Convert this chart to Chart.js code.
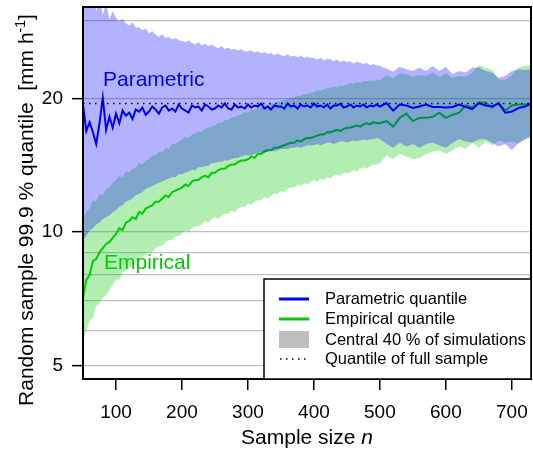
<!DOCTYPE html>
<html>
<head>
<meta charset="utf-8">
<script src="https://cdn.jsdelivr.net/npm/chart.js@4.4.1/dist/chart.umd.min.js"></script>
<style>
  html, body { margin: 0; padding: 0; background: #fff; }
  canvas { display: block; }
</style>
</head>
<body>
<canvas id="chart" width="533" height="449"></canvas>
<script>
// sample sizes: every 5 up to 500, then every 10
var sampleSizes = [
  50, 55, 60, 65, 70, 75, 80, 85, 90, 95,
  100, 105, 110, 115, 120, 125, 130, 135, 140, 145,
  150, 155, 160, 165, 170, 175, 180, 185, 190, 195,
  200, 205, 210, 215, 220, 225, 230, 235, 240, 245,
  250, 255, 260, 265, 270, 275, 280, 285, 290, 295,
  300, 305, 310, 315, 320, 325, 330, 335, 340, 345,
  350, 355, 360, 365, 370, 375, 380, 385, 390, 395,
  400, 405, 410, 415, 420, 425, 430, 435, 440, 445,
  450, 455, 460, 465, 470, 475, 480, 485, 490, 495,
  500,
  510, 520, 530, 540, 550, 560, 570, 580, 590, 600, 610, 620,
  630, 640, 650, 660, 670, 680, 690, 700, 710, 720, 730
];

var paramQuantile = [
  19.4, 16.9, 17.7, 16.8, 15.8, 17.6, 20.1, 17.0, 18.2, 17.2,
  18.5, 17.6, 18.8, 18.3, 18.6, 18.0, 18.9, 18.7, 19.1, 18.4,
  18.7, 19.2, 18.9, 18.5, 19.1, 19.3, 18.8, 19.0, 18.7, 19.4,
  19.0, 18.8, 18.6, 19.3, 19.1, 19.2, 18.8, 19.4, 19.2, 18.9,
  19.0, 19.3, 19.1, 19.5, 19.0, 18.9, 19.4, 19.1, 19.2, 19.0,
  19.4, 19.1, 19.3, 19.2, 19.5, 19.0, 19.2, 18.9, 19.3, 19.2,
  19.2, 19.0, 19.5, 19.2, 19.3, 19.0, 19.4, 19.2, 19.3, 19.1,
  19.5, 19.2, 19.3, 19.1, 19.4, 19.0, 19.3, 19.3, 19.5, 19.1,
  19.2, 19.4, 19.1, 19.3, 19.2, 19.4, 19.1, 19.3, 19.2, 19.4,
  19.2,
  19.55, 18.8, 19.4, 19.3, 19.05, 19.2, 19.4, 19.15, 19.15, 19.1, 19.15, 19.4,
  19.15, 18.95, 19.55, 19.3, 19.2, 19.5, 18.6, 18.7, 19.05, 19.2, 19.5
];

var empQuantile = [
  7.1, 7.8, 8.0, 8.6, 8.7, 9.0, 9.2, 9.4, 9.5, 9.7,
  9.9, 10.2, 10.1, 10.5, 10.6, 10.8, 10.7, 11.1, 11.0, 11.3,
  11.4, 11.5, 11.7, 11.7, 11.9, 12.1, 12.0, 12.3, 12.4, 12.5,
  12.6, 12.8, 12.7, 13.0, 13.1, 13.1, 13.3, 13.4, 13.3, 13.6,
  13.6, 13.8, 13.9, 13.9, 14.1, 14.2, 14.2, 14.4, 14.5, 14.5,
  14.6, 14.8, 14.7, 15.0, 15.0, 15.2, 15.3, 15.3, 15.5, 15.5,
  15.6, 15.7, 15.8, 15.9, 15.9, 16.1, 16.0, 16.2, 16.3, 16.3,
  16.4, 16.5, 16.6, 16.6, 16.8, 16.8, 16.9, 17.0, 16.9, 17.1,
  17.2, 17.2, 17.3, 17.4, 17.3, 17.5, 17.6, 17.5, 17.7, 17.6,
  17.6,
  17.8, 17.3, 18.1, 18.5, 17.8, 18.1, 18.1, 18.2, 18.6, 18.1, 18.4, 18.6,
  19.3, 19.1, 19.6, 19.6, 19.1, 19.6, 18.8, 19.3, 19.4, 19.4, 19.5
];

// central 40 % of simulations, parametric
var paramLow = [
  9.6, 9.8, 10.1, 10.2, 10.4, 10.5, 10.7, 10.8, 10.9, 11.1,
  11.2, 11.4, 11.5, 11.7, 11.8, 11.9, 12.1, 12.2, 12.3, 12.5,
  12.6, 12.7, 12.8, 12.9, 13.0, 13.1, 13.2, 13.3, 13.3, 13.5,
  13.5, 13.6, 13.7, 13.8, 13.8, 14.0, 14.0, 14.1, 14.1, 14.3,
  14.3, 14.4, 14.4, 14.5, 14.5, 14.6, 14.7, 14.7, 14.8, 14.9,
  14.9, 14.9, 15.0, 15.1, 15.1, 15.1, 15.2, 15.3, 15.2, 15.3,
  15.4, 15.4, 15.4, 15.5, 15.5, 15.6, 15.5, 15.6, 15.7, 15.7,
  15.7, 15.8, 15.7, 15.8, 15.9, 15.9, 15.8, 15.9, 16.0, 16.0,
  15.9, 16.0, 16.1, 16.0, 16.1, 16.2, 16.1, 16.2, 16.2, 16.3,
  16.2,
  15.8, 15.5, 15.9, 15.6, 15.8, 15.5, 15.8, 15.9, 15.7, 15.5, 15.9, 16.2,
  16.0, 15.9, 16.2, 16.2, 15.9, 15.6, 15.8, 15.3, 15.9, 16.2, 16.4
];
var paramHigh = [
  36, 38, 33, 35, 31.5, 34, 30.8, 33, 30.2, 31.5,
  30.4, 29.9, 30.3, 29.6, 29.2, 29.7, 28.9, 29.0, 28.5, 28.8,
  28.1, 28.4, 27.9, 27.6, 27.9, 27.4, 27.6, 27.2, 27.4, 27.1,
  27.0, 26.8, 27.1, 26.7, 26.5, 26.8, 26.4, 26.6, 26.3, 26.5,
  26.2, 26.0, 26.3, 25.9, 26.1, 25.8, 25.9, 25.7, 25.9, 25.6,
  25.6, 25.7, 25.4, 25.6, 25.3, 25.5, 25.2, 25.4, 25.1, 25.3,
  25.1, 24.9, 25.2, 24.9, 25.0, 24.8, 25.0, 24.7, 24.9, 24.7,
  24.7, 24.5, 24.7, 24.4, 24.6, 24.5, 24.3, 24.5, 24.2, 24.4,
  24.2, 24.3, 24.0, 24.2, 24.1, 23.9, 24.1, 23.8, 23.9, 23.8,
  23.7,
  23.4, 23.0, 23.6, 23.3, 23.1, 23.5, 23.1, 23.7, 23.1, 23.6, 22.7, 23.1,
  22.9, 23.5, 23.5, 23.1, 22.9, 22.3, 22.5, 23.1, 23.3, 23.2, 23.3
];

// central 40 % of simulations, empirical
var empLow = [
  5.7, 6.0, 6.3, 6.4, 6.8, 6.9, 7.1, 7.2, 7.4, 7.6,
  7.8, 7.8, 8.1, 8.2, 8.3, 8.4, 8.6, 8.6, 8.8, 8.9,
  9.0, 9.0, 9.2, 9.3, 9.3, 9.5, 9.6, 9.6, 9.8, 9.8,
  9.9, 10.1, 10.0, 10.2, 10.3, 10.3, 10.4, 10.6, 10.5, 10.7,
  10.8, 10.7, 10.9, 11.0, 11.0, 11.2, 11.1, 11.3, 11.4, 11.4,
  11.6, 11.5, 11.7, 11.8, 11.8, 12.0, 11.9, 12.1, 12.2, 12.2,
  12.4, 12.3, 12.5, 12.6, 12.6, 12.8, 12.7, 12.9, 12.8, 13.0,
  13.1, 13.0, 13.2, 13.1, 13.3, 13.2, 13.4, 13.5, 13.4, 13.6,
  13.6, 13.6, 13.8, 13.7, 13.9, 14.0, 13.9, 14.1, 14.2, 14.2,
  14.3,
  14.9, 14.6, 15.0, 14.8, 14.6, 14.7, 15.0, 15.2, 15.3, 15.0, 15.3, 15.6,
  15.4, 15.9, 15.5, 16.0, 15.7, 16.1, 15.9, 16.0, 15.8, 16.2, 16.5
];
var empHigh = [
  10.6, 11.1, 11.3, 11.8, 11.7, 12.2, 12.1, 12.5, 12.6, 12.9,
  13.1, 13.4, 13.3, 13.7, 13.6, 13.9, 14.0, 14.3, 14.2, 14.5,
  14.6, 14.9, 14.9, 15.2, 15.1, 15.5, 15.4, 15.8, 15.8, 16.0,
  16.2, 16.4, 16.3, 16.6, 16.7, 16.9, 16.8, 17.1, 17.2, 17.3,
  17.4, 17.7, 17.6, 17.9, 17.9, 18.1, 18.2, 18.3, 18.4, 18.6,
  18.6, 18.9, 18.8, 19.1, 19.1, 19.3, 19.4, 19.5, 19.5, 19.7,
  19.7, 19.9, 19.9, 20.1, 20.1, 20.3, 20.3, 20.5, 20.5, 20.6,
  20.7, 20.9, 20.8, 21.0, 21.1, 21.1, 21.3, 21.2, 21.4, 21.4,
  21.5, 21.7, 21.6, 21.8, 21.7, 21.9, 21.9, 22.0, 21.9, 22.1,
  22.0,
  22.6, 22.2, 22.8, 22.7, 22.4, 22.6, 22.5, 22.9, 22.4, 22.8, 22.3, 22.5,
  22.4, 22.9, 23.8, 23.5, 23.2, 22.1, 22.0, 22.6, 23.5, 23.7, 23.8
];

var fullSampleQuantile = 19.5;
var xTickValues = [100, 200, 300, 400, 500, 600, 700];
var yGridValues = [5, 6, 7, 8, 9, 10, 20, 30];
var yTickLabels = [5, 10, 20];
var xMin = 50, xMax = 729;
var yMin = 4.66, yMax = 32.2;

var fontFamily = '"Liberation Sans", Arial, Helvetica, sans-serif';
Chart.defaults.font.family = fontFamily;
Chart.defaults.color = '#000';

var blueBand = 'rgba(0, 0, 255, 0.3)';
var greenBand = 'rgba(0, 200, 0, 0.3)';

function points(values) {
  return sampleSizes.map(function (n, i) { return { x: n, y: values[i] }; });
}

function band(values, fill, color, order) {
  return {
    data: points(values), borderColor: 'transparent', borderWidth: 0,
    pointRadius: 0, fill: fill, backgroundColor: color, order: order
  };
}

var extras = {
  id: 'extras',
  afterDraw: function (chart) {
    var ctx = chart.ctx, a = chart.chartArea;
    ctx.save();

    // box round the plot
    ctx.strokeStyle = '#000';
    ctx.lineWidth = 2;
    ctx.strokeRect(a.left, a.top, a.right - a.left, a.bottom - a.top);

    // labels inside the plot
    ctx.font = '21px ' + fontFamily;
    ctx.textAlign = 'left';
    ctx.textBaseline = 'middle';
    ctx.fillStyle = '#0000ff';
    ctx.fillText('Parametric', 103, 80);
    ctx.fillStyle = '#00cc00';
    ctx.fillText('Empirical', 104, 263);

    // legend
    ctx.fillStyle = '#fff';
    ctx.fillRect(264, 279, a.right - 264, a.bottom - 279);
    ctx.lineWidth = 1.5;
    ctx.strokeStyle = '#000';
    ctx.strokeRect(264, 279, a.right - 264, a.bottom - 279);
    ctx.lineWidth = 3;
    ctx.strokeStyle = '#0000ff';
    ctx.beginPath(); ctx.moveTo(279, 299); ctx.lineTo(309, 299); ctx.stroke();
    ctx.strokeStyle = '#00cc00';
    ctx.beginPath(); ctx.moveTo(279, 319); ctx.lineTo(309, 319); ctx.stroke();
    ctx.fillStyle = '#bebebe';
    ctx.fillRect(279, 331, 30, 17);
    ctx.strokeStyle = '#000';
    ctx.lineWidth = 1.5;
    ctx.setLineDash([1.5, 4.5]);
    ctx.beginPath(); ctx.moveTo(280, 359); ctx.lineTo(310, 359); ctx.stroke();
    ctx.setLineDash([]);
    ctx.fillStyle = '#000';
    ctx.font = '16.5px ' + fontFamily;
    ctx.fillText('Parametric quantile', 325, 299);
    ctx.fillText('Empirical quantile', 325, 319);
    ctx.fillText('Central 40 % of simulations', 325, 340);
    ctx.fillText('Quantile of full sample', 325, 359);

    // x title
    ctx.textBaseline = 'alphabetic';
    ctx.font = '21px ' + fontFamily;
    var w1 = ctx.measureText('Sample size ').width;
    ctx.font = 'italic 21px ' + fontFamily;
    var w2 = ctx.measureText('n').width;
    var x0 = (a.left + a.right) / 2 - (w1 + w2) / 2;
    ctx.font = '21px ' + fontFamily;
    ctx.fillText('Sample size ', x0, 444);
    ctx.font = 'italic 21px ' + fontFamily;
    ctx.fillText('n', x0 + w1, 444);

    // y title
    ctx.translate(33, 210);
    ctx.rotate(-Math.PI / 2);
    var main = 'Random sample 99.9 % quantile  [mm h';
    ctx.font = '21px ' + fontFamily;
    var m1 = ctx.measureText(main).width;
    var m3 = ctx.measureText(']').width;
    ctx.font = '14px ' + fontFamily;
    var m2 = ctx.measureText('-1').width;
    var s = -(m1 + m2 + m3) / 2;
    ctx.font = '21px ' + fontFamily;
    ctx.fillText(main, s, 0);
    ctx.fillText(']', s + m1 + m2, 0);
    ctx.font = '14px ' + fontFamily;
    ctx.fillText('-1', s + m1, -8);

    ctx.restore();
  }
};

new Chart(document.getElementById('chart'), {
  type: 'line',
  data: {
    datasets: [
      band(empLow, false, 'transparent', 7),
      band(empHigh, '-1', greenBand, 6),
      { data: points(empQuantile), borderColor: '#00cc00', borderWidth: 2, pointRadius: 0, fill: false, order: 5 },
      band(paramLow, false, 'transparent', 4),
      band(paramHigh, '-1', blueBand, 3),
      { data: points(paramQuantile), borderColor: '#0000ff', borderWidth: 2, pointRadius: 0, fill: false, order: 2 },
      { data: [{ x: xMin, y: fullSampleQuantile }, { x: xMax, y: fullSampleQuantile }],
        borderColor: '#000', borderWidth: 1.5, borderDash: [1.5, 4.5], pointRadius: 0, fill: false, order: 1 }
    ]
  },
  options: {
    responsive: false,
    animation: false,
    layout: { padding: { top: 7, right: 2, left: 0, bottom: 0 } },
    elements: { line: { tension: 0 } },
    plugins: { legend: { display: false }, tooltip: { enabled: false } },
    scales: {
      x: {
        type: 'linear', min: xMin, max: xMax, bounds: 'data',
        afterBuildTicks: function (s) { s.ticks = xTickValues.map(function (v) { return { value: v }; }); },
        afterFit: function (s) { s.height = 70; s.paddingLeft = 0; s.paddingRight = 0; },
        grid: { drawOnChartArea: false, color: '#000', lineWidth: 1.5, tickLength: 11 },
        border: { display: false },
        ticks: { font: { size: 19 }, color: '#000', padding: 11, maxRotation: 0, autoSkip: false }
      },
      y: {
        type: 'logarithmic', min: yMin, max: yMax, bounds: 'data',
        afterBuildTicks: function (s) { s.ticks = yGridValues.map(function (v) { return { value: v }; }); },
        afterFit: function (s) { s.width = 83; s.paddingTop = 0; s.paddingBottom = 0; },
        grid: {
          color: '#bfbfbf', lineWidth: 1.3, tickLength: 11, tickWidth: 1.5,
          tickColor: function (c) { return c.tick && yTickLabels.indexOf(c.tick.value) >= 0 ? '#000' : 'rgba(0,0,0,0)'; }
        },
        border: { display: false },
        ticks: {
          font: { size: 19 }, color: '#000', padding: 9, autoSkip: false,
          callback: function (v) { return yTickLabels.indexOf(v) >= 0 ? String(v) : ''; }
        }
      }
    }
  },
  plugins: [extras]
});
</script>
</body>
</html>
